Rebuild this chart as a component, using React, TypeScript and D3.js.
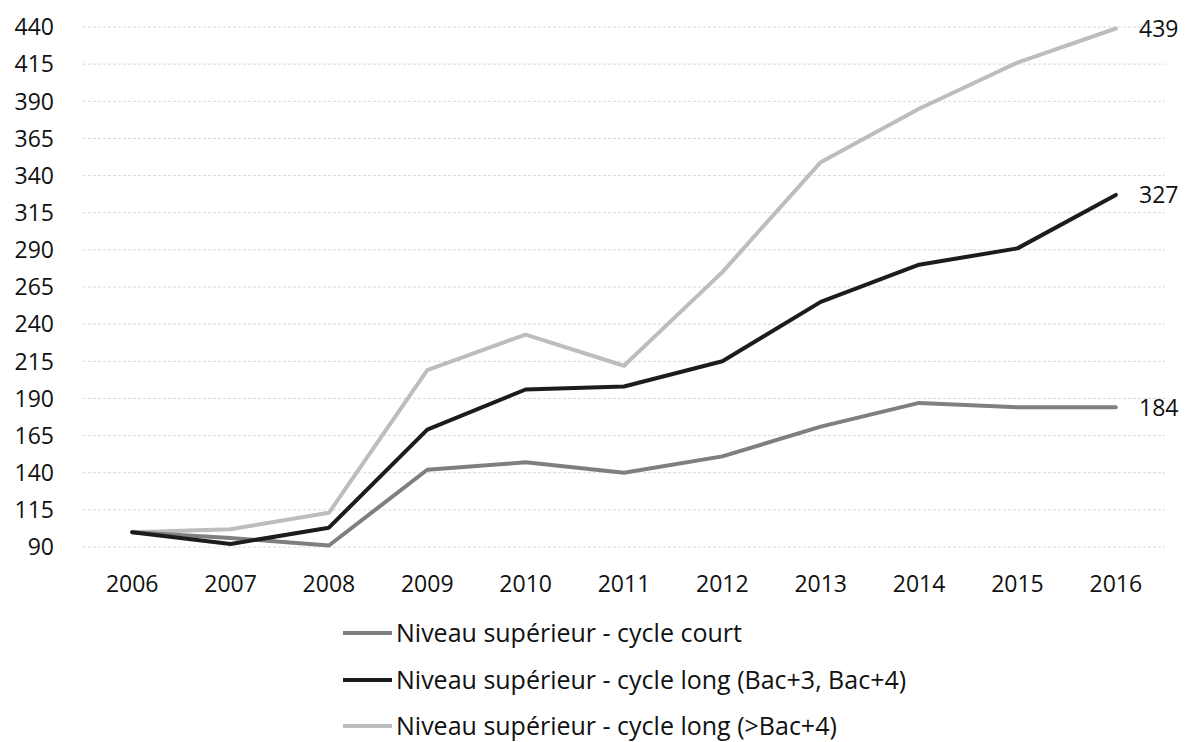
import { useRef, useEffect } from "react";
import * as d3 from "d3";

const years = ["2006", "2007", "2008", "2009", "2010", "2011", "2012", "2013", "2014", "2015", "2016"];
const court = [100, 96, 91, 142, 147, 140, 151, 171, 187, 184, 184];
const longBac34 = [100, 92, 103, 169, 196, 198, 215, 255, 280, 291, 327];
const longBac4Plus = [100, 102, 113, 209, 233, 212, 275, 349, 385, 416, 439];
const yTicks = [90, 115, 140, 165, 190, 215, 240, 265, 290, 315, 340, 365, 390, 415, 440];

const seriesNames = [
  "Niveau supérieur - cycle court",
  "Niveau supérieur - cycle long (Bac+3, Bac+4)",
  "Niveau supérieur - cycle long (>Bac+4)",
];
const seriesColors = ["#7f7f7f", "#1c1c1c", "#bdbdbd"];

const W = 1186;
const H = 742;

const App = () => {
  const svgRef = useRef(null);

  useEffect(() => {
    const svg = d3.select(svgRef.current);
    svg.selectAll("*").remove();

    const font = "'Open Sans', Lato, sans-serif";
    const fs = 23;
    const left = 83;
    const right = 1165;
    const top = 27;
    const bottom = 547;

    const x = d3.scalePoint().domain(years).range([left, right]).padding(0.5);
    const y = d3.scaleLinear().domain([90, 440]).range([bottom, top]);

    // grid
    svg
      .append("g")
      .selectAll("line")
      .data(yTicks)
      .join("line")
      .attr("x1", left)
      .attr("x2", right)
      .attr("y1", (d) => y(d))
      .attr("y2", (d) => y(d))
      .attr("stroke", "#d9d9d9")
      .attr("stroke-width", 1)
      .attr("stroke-dasharray", "3,2");

    // y labels
    svg
      .append("g")
      .attr("font-family", font)
      .attr("font-size", fs)
      .attr("fill", "#111")
      .attr("text-anchor", "end")
      .selectAll("text")
      .data(yTicks)
      .join("text")
      .attr("x", 54)
      .attr("y", (d) => y(d))
      .attr("dy", "0.36em")
      .text((d) => d);

    // x labels
    svg
      .append("g")
      .attr("font-family", font)
      .attr("font-size", fs)
      .attr("fill", "#111")
      .attr("text-anchor", "middle")
      .selectAll("text")
      .data(years)
      .join("text")
      .attr("x", (d) => x(d) as number)
      .attr("y", 592)
      .text((d) => d);

    const data = [court, longBac34, longBac4Plus];
    const line = d3
      .line<number>()
      .x((_, i) => x(years[i]) as number)
      .y((d) => y(d));

    // light first, then court, dark on top
    const order = [2, 0, 1];
    order.forEach((s) => {
      svg
        .append("path")
        .attr("d", line(data[s]))
        .attr("fill", "none")
        .attr("stroke", seriesColors[s])
        .attr("stroke-width", 4)
        .attr("stroke-linejoin", "round")
        .attr("stroke-linecap", "round");
    });

    // end labels
    svg
      .append("g")
      .attr("font-family", font)
      .attr("font-size", fs)
      .attr("fill", "#111")
      .selectAll("text")
      .data(data)
      .join("text")
      .attr("x", 1139)
      .attr("y", (d) => y(d[d.length - 1]))
      .attr("dy", "0.36em")
      .text((d) => d[d.length - 1]);

    // legend
    const legendY = [633, 680, 726];
    const lg = svg.append("g");
    seriesNames.forEach((name, i) => {
      lg.append("line")
        .attr("x1", 343)
        .attr("x2", 392)
        .attr("y1", legendY[i])
        .attr("y2", legendY[i])
        .attr("stroke", seriesColors[i])
        .attr("stroke-width", 4);
      lg.append("text")
        .attr("x", 396)
        .attr("y", legendY[i])
        .attr("dy", "0.36em")
        .attr("font-family", font)
        .attr("font-size", 25)
        .attr("fill", "#111")
        .text(name);
    });
  }, []);

  return (
    <svg
      ref={svgRef}
      width={W}
      height={H}
      style={{ position: "absolute", left: 0, top: 0, background: "#fff" }}
    />
  );
};

export default App;
